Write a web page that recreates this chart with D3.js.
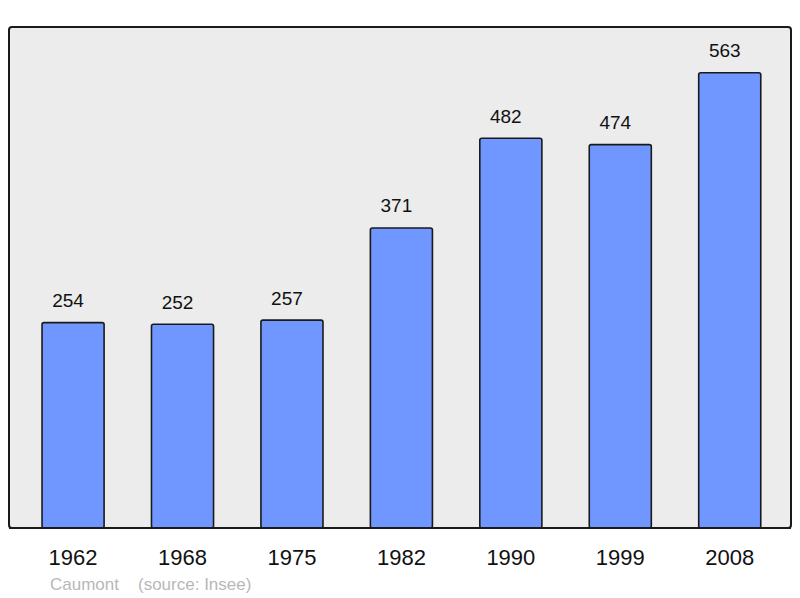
<!DOCTYPE html>
<html><head><meta charset="utf-8">
<script src="https://cdn.jsdelivr.net/npm/d3@7"></script>
<style>body{margin:0;background:#fff}svg{display:block}</style>
</head><body>
<script>
const years = ["1962","1968","1975","1982","1990","1999","2008"];
const population = [254,252,257,371,482,474,563];
const commune = "Caumont";
const source = "(source: Insee)";

const W = 800, H = 598;
const panel = {x0: 9, x1: 791, y0: 27, y1: 528};
const svg = d3.select("body").append("svg").attr("width", W).attr("height", H);

svg.append("rect").attr("x", panel.x0).attr("y", panel.y0)
  .attr("width", panel.x1 - panel.x0).attr("height", panel.y1 - panel.y0)
  .attr("rx", 3).attr("fill", "#ececec").attr("stroke", "#1a1a1a").attr("stroke-width", 2);

const x = d3.scaleBand().domain(years).range([10.3, 792.5]).paddingInner(0.433).paddingOuter(0.29);
const y = d3.scaleLinear().domain([0, 619.5]).range([panel.y1, panel.y0]);

const g = svg.append("g");
g.selectAll("rect.bar").data(population).join("rect").attr("class","bar")
  .attr("x", (d,i) => x(years[i])).attr("width", x.bandwidth())
  .attr("y", d => y(d)).attr("height", d => y(0) - y(d))
  .attr("rx", 2)
  .attr("fill", "#7096ff").attr("stroke", "#1a1a1a").attr("stroke-width", 1.6);

g.selectAll("text.val").data(population).join("text").attr("class","val")
  .attr("x", (d,i) => x(years[i]) + x.bandwidth()/2 - 5)
  .attr("y", d => y(d) - 15.5)
  .attr("text-anchor","middle").attr("font-family","Liberation Sans, Arial, sans-serif")
  .attr("font-size", 19).attr("fill","#111").text(d => d);

svg.append("line").attr("x1", panel.x0).attr("x2", panel.x1).attr("y1", panel.y1).attr("y2", panel.y1)
  .attr("stroke","#1a1a1a").attr("stroke-width",2);

const xAxis = d3.axisBottom(x).tickSize(0).tickPadding(0);
const ax = svg.append("g").attr("transform", `translate(0,${panel.y1})`).call(xAxis);
ax.select(".domain").remove();
ax.selectAll("text").attr("dy", null).attr("y", 37)
  .attr("font-family","Liberation Sans, Arial, sans-serif").attr("font-size", 22).attr("fill","#111");

svg.append("text").attr("x", 50).attr("y", 590).attr("font-family","Liberation Sans, Arial, sans-serif")
  .attr("font-size", 17).attr("fill","#b8b8b8").text(commune);
svg.append("text").attr("x", 138).attr("y", 590).attr("font-family","Liberation Sans, Arial, sans-serif")
  .attr("font-size", 17).attr("fill","#b8b8b8").text(source);
</script>
</body></html>
